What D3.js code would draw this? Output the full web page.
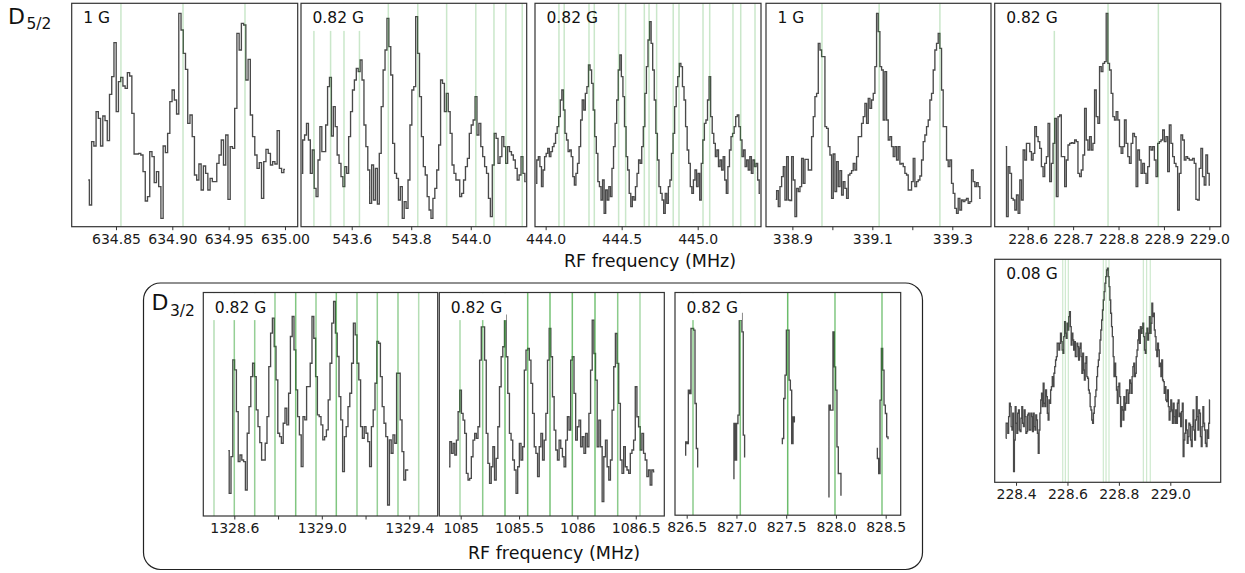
<!DOCTYPE html>
<html>
<head>
<meta charset="utf-8">
<script src="https://cdn.jsdelivr.net/npm/d3@7"></script>
<style>
  body { margin: 0; background: #fff; }
  text { font-family: "DejaVu Sans", sans-serif; }
</style>
</head>
<body>
<svg id="fig" width="1245" height="573"></svg>
<script>
// ---- data (signal in arbitrary counts) ----

// D5/2, 1 G, ~634.9 MHz
var p1Scan   = [634.8254, 635.0];
var p1Signal = [180,105,295,282,385,365,282,372,358,298,437,490,592,385,475,488,462,455,502,492,
                380,258,258,260,255,205,117,130,265,250,172,205,160,65,282,262,320,415,450,420,
                378,680,630,560,512,350,375,310,195,180,228,150,222,200,150,185,175,175,230,255,
                300,225,315,122,280,275,395,620,570,650,645,480,542,375,310,255,215,232,125,235,
                272,260,225,235,228,328,215,202,212];
var p1Lines  = [634.8544, 634.9095, 634.9645];
var p1Ticks  = [634.85, 634.90, 634.95, 635.00];
var p1TickLabels = ["634.85", "634.90", "634.95", "635.00"];

// D5/2, 0.82 G, ~543.8 MHz
var p2Scan   = [543.432, 544.185];
var p2Signal = [200,300,315,350,300,200,270,155,130,240,340,265,265,345,460,488,312,400,340,255,
                230,190,160,220,200,310,385,450,480,515,505,540,480,345,280,210,110,225,120,215,
                108,260,400,510,570,665,580,495,290,200,185,120,160,65,115,95,180,345,450,460,
                670,560,430,310,220,195,130,90,65,125,155,210,285,480,470,385,440,385,320,225,
                200,180,180,130,140,180,220,245,320,345,360,430,315,350,280,250,220,200,125,70,
                225,320,305,230,250,310,280,230,280,265,255,240,215,180,195,250,200,175];
var p2Lines  = [543.473, 543.529, 543.574, 543.626, 543.723, 543.822, 543.919, 544.017, 544.078, 544.118, 544.173];
var p2Ticks  = [543.6, 543.8, 544.0];
var p2TickLabels = ["543.6", "543.8", "544.0"];

// D5/2, 0.82 G, ~444.6 MHz
var p3Scan   = [443.9365, 445.4098];
var p3Signal = [170,240,250,220,160,210,250,260,275,250,265,280,290,320,340,370,420,450,390,320,
                300,265,270,250,190,165,200,230,280,360,420,390,440,460,525,510,470,390,310,260,
                175,160,120,180,80,150,120,160,130,215,280,350,420,510,555,490,430,340,250,210,
                140,100,130,120,160,200,240,230,280,340,440,520,600,655,590,510,420,320,240,160,
                140,120,80,140,110,160,180,260,320,400,460,490,530,520,460,420,340,270,230,160,
                140,180,210,160,200,120,230,300,350,360,420,490,370,320,290,250,270,220,240,210,
                250,180,140,220,270,310,320,340,370,375,340,300,250,270,220,240,210,250,200,240,
                220,230,180,140];
var p3Lines  = [444.0875, 444.122, 444.285, 444.32, 444.48, 444.526, 444.649, 444.68, 444.73,
                444.839, 444.877, 445.035, 445.079, 445.232, 445.283, 445.377];
var p3Ticks  = [444.0, 444.5, 445.0];
var p3TickLabels = ["444.0", "444.5", "445.0"];

// D5/2, 1 G, ~339.1 MHz
var p4Scan   = [338.8585, 339.371];
var p4Signal = [122,148,100,160,190,220,120,250,120,118,250,180,70,155,145,160,245,170,242,242,
                210,210,310,370,430,440,590,570,550,550,340,335,280,255,125,258,145,235,160,208,
                135,175,155,125,195,200,208,230,210,250,310,310,350,370,410,350,425,395,420,440,
                520,680,625,520,510,360,505,360,300,310,280,250,280,240,280,228,230,220,200,195,
                150,150,175,245,160,175,180,192,240,295,315,340,360,420,440,510,570,590,620,575,
                450,340,340,240,220,240,170,140,95,80,125,90,120,115,120,125,110,115,210,175,
                160,172,160,125];
var p4Lines  = [338.974, 339.117, 339.269];
var p4Ticks  = [338.9, 339.0, 339.1, 339.2, 339.3];
var p4TickLabels = ["338.9", "", "339.1", "", "339.3"];

// D5/2, 0.82 G, ~228.8 MHz
var p5Scan   = [228.5515, 229.0015];
var p5Signal = [280,70,220,200,125,120,90,135,80,180,120,270,240,290,290,265,240,260,340,310,
                295,275,220,190,230,250,350,175,230,290,365,130,370,375,250,250,160,240,285,290,
                292,290,300,295,200,190,210,255,395,300,270,310,270,290,450,370,350,520,505,530,
                535,680,530,510,440,370,360,385,360,280,260,280,360,290,250,230,290,320,310,160,
                270,240,200,230,200,170,220,280,270,280,240,190,290,295,300,330,295,310,205,345,
                290,250,230,220,90,200,315,300,240,250,245,240,240,245,230,122,120,215,275,190,
                165,255,200,165];
var p5Lines  = [228.6586, 228.7769, 228.8877];
var p5Ticks  = [228.6, 228.7, 228.8, 228.9, 229.0];
var p5TickLabels = ["228.6", "228.7", "228.8", "228.9", "229.0"];

// D5/2, 0.08 G, ~228.75 MHz
var p6Scan   = [228.36, 229.154];
var p6Signal = [155,200,200,170,220,260,250,190,180,230,55,150,250,200,170,230,240,180,175,215,
                250,200,190,240,220,170,175,225,230,180,180,230,220,175,230,190,180,225,210,170,
                110,180,230,270,290,250,320,260,250,300,280,230,210,270,260,300,310,340,310,350,
                370,390,400,440,440,420,440,470,445,420,410,460,505,470,455,500,480,520,535,490,
                435,470,450,420,445,400,400,440,430,390,425,440,400,350,410,360,330,380,400,340,
                335,300,290,250,240,210,200,230,250,280,300,340,370,390,410,450,480,510,540,570,
                595,620,640,660,665,640,610,570,530,490,460,400,340,380,340,300,260,310,320,280,
                190,250,240,210,280,240,260,300,300,260,290,330,320,290,340,370,380,340,350,400,
                420,450,480,440,490,470,485,500,460,420,410,470,485,450,470,520,470,500,560,520,
                530,480,460,420,400,440,420,370,380,340,390,330,325,290,310,270,265,300,250,210,
                235,270,240,200,260,220,200,240,200,260,270,220,230,190,235,260,100,150,170,210,
                180,140,160,200,195,150,130,190,240,180,150,210,280,220,180,240,230,160,130,190,
                250,200,180,140,130,180,155,200,270];
var p6Lines  = [228.5816, 228.5917, 228.6033, 228.7394, 228.75, 228.7616, 228.895, 228.908, 228.922];
var p6Ticks  = [228.4, 228.6, 228.8, 229.0];
var p6TickLabels = ["228.4", "228.6", "228.8", "229.0"];

// D3/2, 0.82 G, ~1329 MHz
var b1Scan   = [1328.5726, 1329.3954];
var b1Signal = [208,80,190,480,450,325,175,195,180,175,90,260,340,430,470,430,330,280,232,180,
                180,230,310,460,560,605,520,420,260,250,230,290,335,285,380,550,610,510,390,310,
                255,160,310,300,400,400,470,610,545,430,315,310,285,240,250,270,360,470,590,655,
                560,490,370,300,145,250,280,340,380,470,590,555,470,420,280,245,280,260,235,160,
                280,330,410,535,530,430,340,290,250,45,240,200,255,230,440,440,300,205,120,150,150];
var b1Lines  = [1328.5072, 1328.6, 1328.6933, 1328.786, 1328.8807, 1328.9735, 1329.0663,
                1329.1609, 1329.2537, 1329.3483, 1329.4429];
var b1Alpha  = [0.35, 0.5, 0.5, 0.5, 0.6, 0.5, 0.6, 0.5, 0.5, 0.5, 0.35];
var b1Ticks  = [1328.6, 1328.8, 1329.0, 1329.2, 1329.4];
var b1TickLabels = ["1328.6", "", "1329.0", "", "1329.4"];

// D3/2, 0.82 G, ~1085.8 MHz
var b2Scan   = [1084.8997, 1086.659];
var b2Signal = [160,235,200,230,195,240,325,390,320,300,260,140,120,125,190,240,260,245,280,480,
                580,580,480,260,170,110,160,220,120,185,280,400,490,520,615,490,380,260,240,180,
                150,80,160,230,180,220,450,510,515,480,410,320,220,200,130,220,260,180,240,320,
                480,575,490,370,270,210,180,240,215,190,160,240,310,270,480,490,380,240,280,300,
                220,250,200,260,220,320,450,600,500,420,220,300,220,55,190,240,160,120,180,330,
                460,560,470,350,180,140,220,160,150,140,200,210,240,400,310,280,210,260,200,180,
                130,150,105,150,145];
var b2Lines  = [1084.994, 1085.1885, 1085.3796, 1085.5741, 1085.7652, 1085.9563, 1086.1508, 1086.3453, 1086.5364];
var b2Alpha  = [0.4, 0.55, 0.65, 0.65, 0.65, 0.65, 0.65, 0.55, 0.4];
var b2Ticks  = [1085, 1085.5, 1086, 1086.5];
var b2TickLabels = ["1085", "1085.5", "1086", "1086.5"];

// D3/2, 0.82 G, ~827.5 MHz (five separate short scans)
var b3Starts  = [826.4829, 826.968, 827.4548, 827.9231, 828.4095];
var b3Step    = 0.0134;
var b3Signals = [[195,235,230,390,380,575,575,570,350,215,160],
                 [125,290,180,290,315,600,620,565,255,190],
                 [230,245,365,435,570,570,420,390,230,310,295],
                 [70,345,330,330,565,460,390,220,140,140,75],
                 [215,185,140,360,515,450,345,320,250,245]];
var b3Lines  = [826.5633, 827.0387, 827.5151, 827.9904, 828.4628];
var b3Alpha  = [0.55, 0.6, 0.7, 0.6, 0.6];
var b3Ticks  = [826.5, 827.0, 827.5, 828.0, 828.5];
var b3TickLabels = ["826.5", "827.0", "827.5", "828.0", "828.5"];

var fieldLabels = ["1 G", "0.82 G", "0.82 G", "1 G", "0.82 G", "0.08 G", "0.82 G", "0.82 G", "0.82 G"];

// ---- layout ----
var svg = d3.select("#fig");
var green = "#2ca02c";

function uniform(range, values) {
  var step = (range[1] - range[0]) / (values.length - 1);
  return [values.map(function(v, i) { return [range[0] + i * step, v]; })];
}

var panels = [
  {box: [71.7, 3.3, 226, 223.4],   xd: [634.8107, 635.0113], yd: [40, 710], scans: uniform(p1Scan, p1Signal),
   lines: p1Lines, ticks: p1Ticks, tl: p1TickLabels, label: fieldLabels[0], bg: true, lw: 1.5, la: 0.25},
  {box: [301, 3.3, 225.7, 223.4],  xd: [543.4296, 544.188], yd: [40, 710], scans: uniform(p2Scan, p2Signal),
   lines: p2Lines, ticks: p2Ticks, tl: p2TickLabels, label: fieldLabels[1], bg: true, lw: 1.5, la: 0.25},
  {box: [535, 3.3, 226, 223.4],    xd: [443.93, 445.4164], yd: [40, 710], scans: uniform(p3Scan, p3Signal),
   lines: p3Lines, ticks: p3Ticks, tl: p3TickLabels, label: fieldLabels[2], bg: false, lw: 1.5, la: 0.25},
  {box: [766, 3.3, 225, 223.4],    xd: [338.834, 339.3968], yd: [40, 710], scans: uniform(p4Scan, p4Signal),
   lines: p4Lines, ticks: p4Ticks, tl: p4TickLabels, label: fieldLabels[3], bg: true, lw: 1.5, la: 0.25},
  {box: [994.7, 3.3, 226, 223.4],  xd: [228.5273, 229.025], yd: [40, 710], scans: uniform(p5Scan, p5Signal),
   lines: p5Lines, ticks: p5Ticks, tl: p5TickLabels, label: fieldLabels[4], bg: true, lw: 1.5, la: 0.25},
  {box: [994.7, 259.3, 226, 223],  xd: [228.317, 229.196], yd: [23, 692], scans: uniform(p6Scan, p6Signal),
   lines: p6Lines, ticks: p6Ticks, tl: p6TickLabels, label: fieldLabels[5], bg: true, lw: 1.1, la: 0.25},
  {box: [203.3, 292.5, 234.4, 223.5], xd: [1328.4583, 1329.5298], yd: [12, 682], scans: uniform(b1Scan, b1Signal),
   lines: b1Lines, alpha: b1Alpha, ticks: b1Ticks, tl: b1TickLabels, label: fieldLabels[6], bg: true, lw: 1.5},
  {box: [439.3, 292.5, 225, 223.5],   xd: [1084.8166, 1086.7446], yd: [12, 683], scans: uniform(b2Scan, b2Signal),
   lines: b2Lines, alpha: b2Alpha, ticks: b2Ticks, tl: b2TickLabels, label: fieldLabels[7], bg: true, lw: 1.5},
  {box: [675, 292.5, 225.7, 222.7],   xd: [826.3824, 828.6508], yd: [15, 683],
   scans: b3Signals.map(function(s, k) { return s.map(function(v, i) { return [b3Starts[k] + i * b3Step, v]; }); }),
   lines: b3Lines, alpha: b3Alpha, ticks: b3Ticks, tl: b3TickLabels, label: fieldLabels[8], bg: true, lw: 1.5}
];

function drawPanel(p, idx) {
  var w = p.box[2], h = p.box[3];
  var g = svg.append("g").attr("transform", "translate(" + p.box[0] + "," + p.box[1] + ")");
  var x = d3.scaleLinear().domain(p.xd).range([0, w]);
  var y = d3.scaleLinear().domain(p.yd).range([h, 0]);

  g.append("clipPath").attr("id", "clip" + idx)
   .append("rect").attr("width", w).attr("height", h);
  var inner = g.append("g").attr("clip-path", "url(#clip" + idx + ")");

  var line = d3.line().x(function(d) { return x(d[0]); })
                      .y(function(d) { return y(d[1]); })
                      .curve(d3.curveStep);
  p.scans.forEach(function(s) {
    inner.append("path").datum(s)
         .attr("d", line)
         .attr("fill", "none")
         .attr("stroke", "#4a4a4a")
         .attr("stroke-width", 1.35)
         .attr("stroke-linejoin", "miter");
  });

  inner.selectAll(".res").data(p.lines).enter().append("line")
       .attr("class", "res")
       .attr("x1", function(d) { return x(d); })
       .attr("x2", function(d) { return x(d); })
       .attr("y1", 0).attr("y2", h)
       .attr("stroke", green)
       .attr("stroke-width", p.lw)
       .attr("stroke-opacity", function(d, i) { return p.alpha ? p.alpha[i] : p.la; });

  var t = g.append("text")
           .attr("x", 11.5).attr("y", 20)
           .style("font-size", "15.5px")
           .attr("fill", "#111")
           .text(p.label);
  if (p.bg) {
    var bb = t.node().getBBox();
    g.insert("rect", "text")
     .attr("x", bb.x - 4).attr("y", 0.6)
     .attr("width", bb.width + 8)
     .attr("height", bb.y + bb.height + 3)
     .attr("fill", "#fff");
  }

  g.append("rect").attr("width", w).attr("height", h)
   .attr("fill", "none").attr("stroke", "#333").attr("stroke-width", 1.2);

  var axis = d3.axisBottom(x)
               .tickValues(p.ticks)
               .tickFormat(function(d, i) { return p.tl[i]; })
               .tickSize(3.5).tickPadding(3.5);
  var ag = g.append("g").attr("transform", "translate(0," + h + ")").call(axis);
  ag.select(".domain").remove();
  ag.attr("font-family", "DejaVu Sans, sans-serif").attr("font-size", 14).style("color", "#1a1a1a");
  ag.selectAll(".tick line").attr("stroke", "#333").attr("stroke-width", 1);
}

panels.forEach(drawPanel);

// state labels
svg.append("text").attr("x", 8).attr("y", 23.5).style("font-size", "22px").attr("fill", "#111")
   .text("D").append("tspan").attr("dx", 1.5).attr("dy", 5.5).style("font-size", "15.5px").text("5/2");
svg.append("text").attr("x", 151.5).attr("y", 310).style("font-size", "22px").attr("fill", "#111")
   .text("D").append("tspan").attr("dx", 1.5).attr("dy", 5.5).style("font-size", "15.5px").text("3/2");

// axis titles
svg.append("text").attr("x", 650).attr("y", 266.5).attr("text-anchor", "middle")
   .style("font-size", "17.5px").attr("fill", "#111").text("RF frequency (MHz)");
svg.append("text").attr("x", 554).attr("y", 558.5).attr("text-anchor", "middle")
   .style("font-size", "17.5px").attr("fill", "#111").text("RF frequency (MHz)");

// rounded frame round the D3/2 group
svg.append("rect").attr("x", 143.5).attr("y", 283).attr("width", 779).attr("height", 286.5)
   .attr("rx", 17).attr("ry", 17)
   .attr("fill", "none").attr("stroke", "#222").attr("stroke-width", 1.2);
</script>
</body>
</html>
